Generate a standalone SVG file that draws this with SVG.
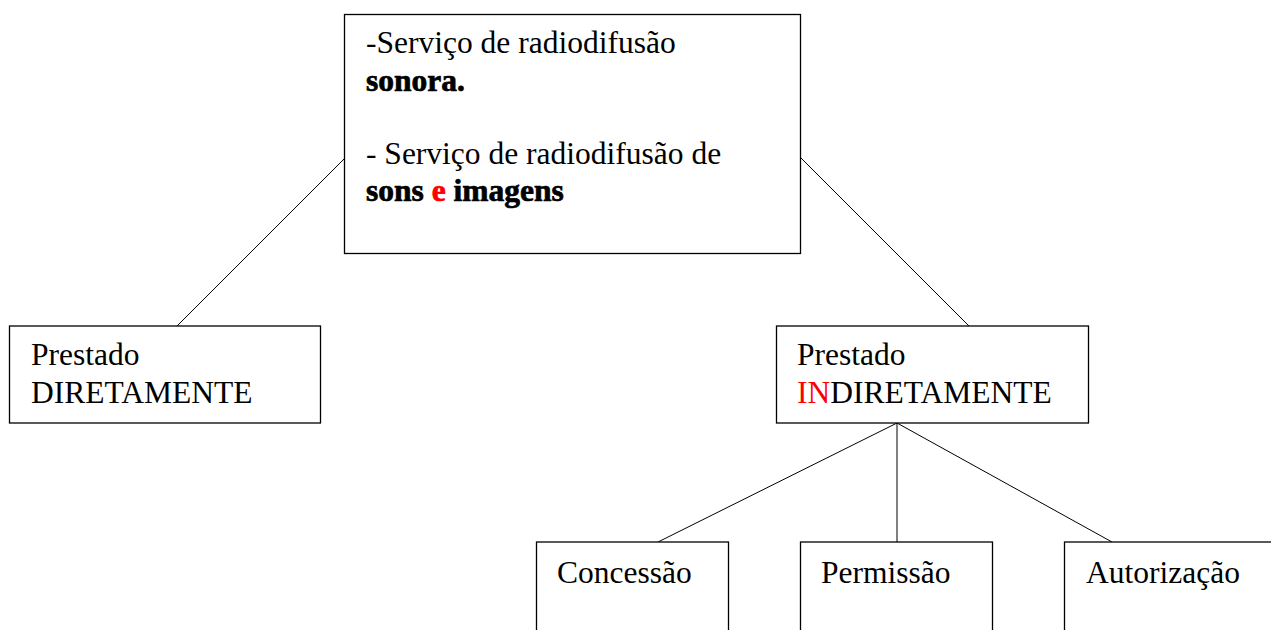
<svg xmlns="http://www.w3.org/2000/svg" width="1271" height="630" viewBox="0 0 1271 630">
<style>
.box{fill:#fff;stroke:#000;stroke-width:1.3}
.t{font-family:"Liberation Serif","Times New Roman",serif;font-size:31.5px;fill:#000}
.b{font-weight:bold;stroke:#000;stroke-width:0.7}
.red{fill:#f00;stroke:#f00}
.conn line{stroke:#000;stroke-width:1}
</style>
<rect width="1271" height="630" fill="#fff"/>
<g class="conn" id="connectors">
<line x1="344" y1="159" x2="177" y2="326"/>
<line x1="801" y1="158" x2="969" y2="326"/>
<line x1="897" y1="423" x2="658" y2="542"/>
<line x1="897" y1="423" x2="897" y2="542"/>
<line x1="897" y1="423" x2="1112" y2="542"/>
</g>
<g id="top">
<rect class="box" x="344.5" y="14.5" width="456" height="239"/>
<text class="t" x="366" y="53">-Serviço de radiodifusão</text>
<text class="t b" x="366" y="91">sonora.</text>
<text class="t" x="366" y="164">- Serviço de radiodifusão de</text>
<text class="t b" x="366" y="201">sons <tspan class="red">e</tspan> imagens</text>
</g>
<g id="direto">
<rect class="box" x="9.5" y="326" width="311" height="97"/>
<text class="t" x="31" y="365">Prestado</text>
<text class="t" x="31" y="403">DIRETAMENTE</text>
</g>
<g id="indireto">
<rect class="box" x="776.5" y="326" width="312" height="97"/>
<text class="t" x="797" y="365">Prestado</text>
<text class="t" x="797" y="403"><tspan class="red" style="stroke:none">IN</tspan>DIRETAMENTE</text>
</g>
<g id="concessao">
<rect class="box" x="536.5" y="542" width="192" height="100"/>
<text class="t" x="557" y="583">Concessão</text>
</g>
<g id="permissao">
<rect class="box" x="800.5" y="542" width="192" height="100"/>
<text class="t" x="821" y="583">Permissão</text>
</g>
<g id="autorizacao">
<rect class="box" x="1064.5" y="542" width="220" height="100"/>
<text class="t" x="1086" y="583">Autorização</text>
</g>
</svg>
